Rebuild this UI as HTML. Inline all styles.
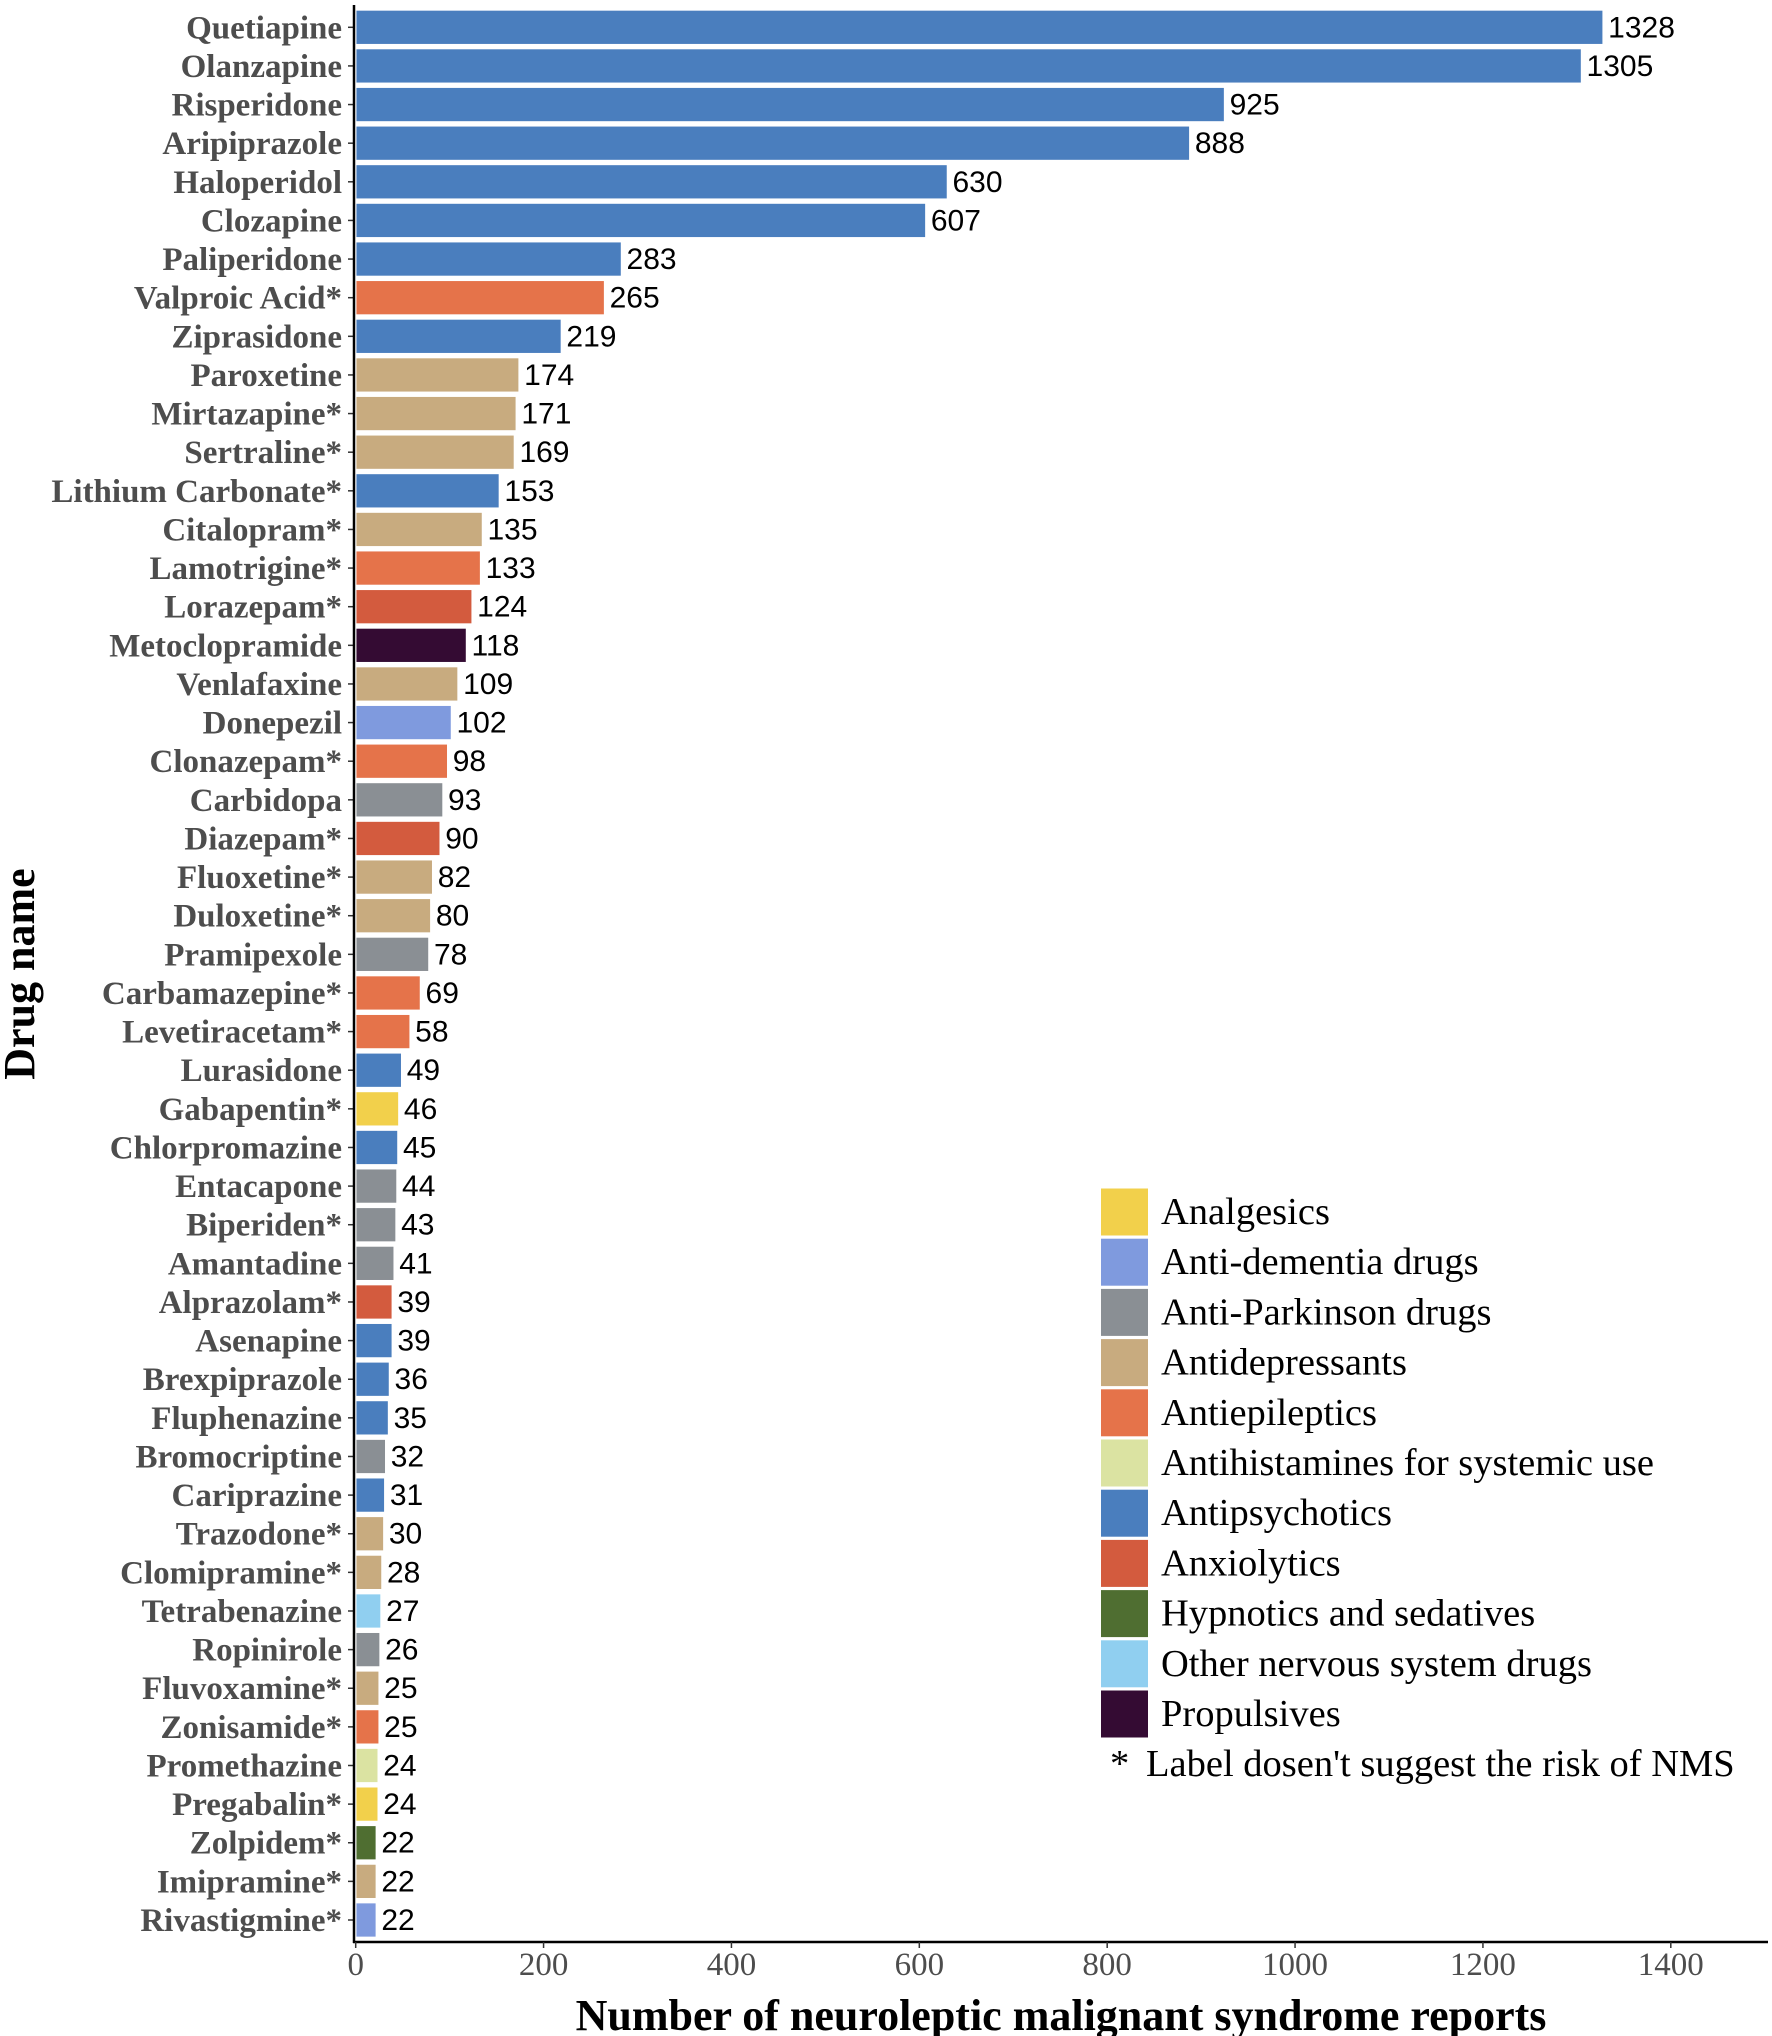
<!DOCTYPE html>
<html><head><meta charset="utf-8"><style>
body{margin:0;background:#fff;}
svg{display:block;}
</style></head><body>
<svg id="chart" width="1772" height="2036" xmlns="http://www.w3.org/2000/svg"></svg>
<script>
const drugs=["Quetiapine","Olanzapine","Risperidone","Aripiprazole","Haloperidol","Clozapine","Paliperidone","Valproic Acid*","Ziprasidone","Paroxetine","Mirtazapine*","Sertraline*","Lithium Carbonate*","Citalopram*","Lamotrigine*","Lorazepam*","Metoclopramide","Venlafaxine","Donepezil","Clonazepam*","Carbidopa","Diazepam*","Fluoxetine*","Duloxetine*","Pramipexole","Carbamazepine*","Levetiracetam*","Lurasidone","Gabapentin*","Chlorpromazine","Entacapone","Biperiden*","Amantadine","Alprazolam*","Asenapine","Brexpiprazole","Fluphenazine","Bromocriptine","Cariprazine","Trazodone*","Clomipramine*","Tetrabenazine","Ropinirole","Fluvoxamine*","Zonisamide*","Promethazine","Pregabalin*","Zolpidem*","Imipramine*","Rivastigmine*"];
const counts=[1328,1305,925,888,630,607,283,265,219,174,171,169,153,135,133,124,118,109,102,98,93,90,82,80,78,69,58,49,46,45,44,43,41,39,39,36,35,32,31,30,28,27,26,25,25,24,24,22,22,22];
const drugClass=["AP","AP","AP","AP","AP","AP","AP","AE","AP","AD","AD","AD","AP","AD","AE","AX","PR","AD","DM","AE","PK","AX","AD","AD","PK","AE","AE","AP","AN","AP","PK","PK","PK","AX","AP","AP","AP","PK","AP","AD","AD","OT","PK","AD","AE","AH","AN","HY","AD","DM"];
const legendKeys=["AN","DM","PK","AD","AE","AH","AP","AX","HY","OT","PR"];
const legendLabels=["Analgesics","Anti-dementia drugs","Anti-Parkinson drugs","Antidepressants","Antiepileptics","Antihistamines for systemic use","Antipsychotics","Anxiolytics","Hypnotics and sedatives","Other nervous system drugs","Propulsives"];
const legendColors=["#f2d04b","#7f9ade","#8a8f94","#c8ab7f","#e5734a","#dbe3a2","#4a7ebe","#d35b3e","#4f6e31","#90cff0","#340b33"];
const xTicks=[0,200,400,600,800,1000,1200,1400];

const NS="http://www.w3.org/2000/svg";
const svg=document.getElementById('chart');
function mk(tag,attrs,parent){const e=document.createElementNS(NS,tag);for(const k in attrs)e.setAttribute(k,attrs[k]);(parent||svg).appendChild(e);return e;}
const x0=355.7,x1400=1670.8;
const xs=v=>x0+(v/1400)*(x1400-x0);
const yTop=27.3,yStep=(1920-27.3)/49;
const ys=i=>yTop+i*yStep;
const bh=yStep*0.9;
const serif='"Liberation Serif", serif';
const sans='"Liberation Sans", sans-serif';

drugs.forEach((d,i)=>{
  const col=legendColors[legendKeys.indexOf(drugClass[i])];
  const r=mk('rect',{x:xs(0),y:ys(i)-bh/2,width:xs(counts[i])-xs(0),height:bh,fill:col,stroke:'#fff','stroke-width':1.5});
  
  
  const v=mk('text',{x:xs(counts[i])+5,y:ys(i)+10,'font-family':sans,'font-size':30,fill:'#000'});
  v.textContent=counts[i];
  
  
  const t=mk('text',{x:342,y:ys(i)+11,'text-anchor':'end','font-family':serif,'font-weight':'bold','font-size':33,fill:'#4d4d4d'});
  t.textContent=d;
  
  
  mk('line',{x1:348,x2:354,y1:ys(i),y2:ys(i),stroke:'#333','stroke-width':1.5});
});
mk('line',{x1:354,x2:354,y1:5,y2:1943,stroke:'#000','stroke-width':2.5});
mk('line',{x1:353,x2:1768,y1:1942,y2:1942,stroke:'#000','stroke-width':2.5});
xTicks.forEach(v=>{
  mk('line',{x1:xs(v),x2:xs(v),y1:1942,y2:1948,stroke:'#333','stroke-width':1.5});
  const t=mk('text',{x:xs(v),y:1975,'text-anchor':'middle','font-family':serif,'font-size':33,fill:'#4d4d4d'});
  t.textContent=v;
  
  
});
const xt=mk('text',{x:1061,y:2030,'text-anchor':'middle','font-family':serif,'font-weight':'bold','font-size':44,fill:'#000'});
xt.textContent='Number of neuroleptic malignant syndrome reports';


const yt=mk('text',{x:34,y:974,'text-anchor':'middle','font-family':serif,'font-weight':'bold','font-size':44,fill:'#000',transform:'rotate(-90 34 974)'});
yt.textContent='Drug name';



legendLabels.forEach((l,i)=>{
  const cy=1212+i*50.2;
  const r=mk('rect',{x:1101,y:cy-23.5,width:47,height:47,fill:legendColors[i]});
  
  
  const t=mk('text',{x:1161,y:cy+12,'font-family':serif,'font-size':38.5,fill:'#000'});
  t.textContent=l;
  
  
});
const st=mk('text',{x:1110,y:1776,'font-family':serif,'font-size':38.5,fill:'#000'});
st.textContent='*';


const note=mk('text',{x:1146,y:1776,'font-family':serif,'font-size':38.5,fill:'#000'});
note.textContent='Label dosen\'t suggest the risk of NMS';


</script>
</body></html>
